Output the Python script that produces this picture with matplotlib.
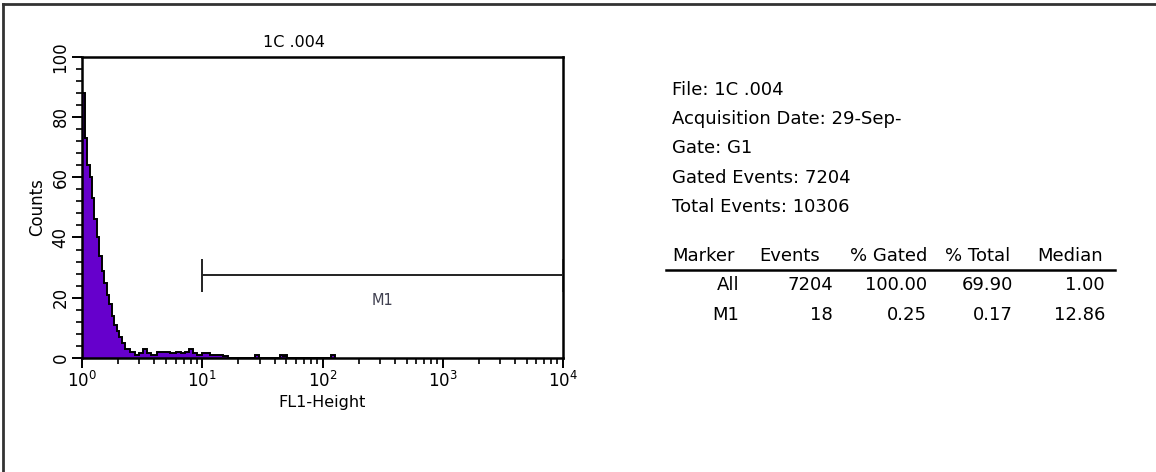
"""
FL1 ヒストグラム (CellQuest 風) の再現
"""

import matplotlib

matplotlib.use("Agg")
import matplotlib.pyplot as plt
from matplotlib.lines import Line2D
from matplotlib.ticker import FixedLocator, LogLocator, NullFormatter

# データ
fl1_edges = [
    1.00, 1.06, 1.10, 1.16, 1.21, 1.27, 1.33, 1.39, 1.46, 1.53, 1.60, 1.68,
    1.76, 1.85, 1.95, 2.05, 2.16, 2.30, 2.50, 2.75, 3.00, 3.20, 3.45, 3.75,
    4.20, 4.70, 5.40, 6.00, 6.60, 7.20, 7.80, 8.30, 9.00, 10.0, 11.5, 13.0,
    15.0, 16.4, 27.5, 29.6, 44.0, 47.0, 48.5, 51.0, 118.0, 127.0,
]
counts = [
    88, 73, 64, 60, 53, 46, 40, 34, 29, 25, 21, 18,
    14, 11, 9, 7, 5, 3, 2, 1, 1.5, 3, 1.5, 1,
    2, 2, 1.5, 2, 1.5, 2, 3, 1.5, 1, 1.5, 1, 1,
    0.7, 0, 1, 0, 1, 0.6, 1, 0, 1,
]

marker_name = "M1"
marker_range = [10.0, 9910.0]
marker_level = 27.5

file_name = "1C .004"
info_lines = [
    "File: 1C .004",
    "Acquisition Date: 29-Sep-",
    "Gate: G1",
    "Gated Events: 7204",
    "Total Events: 10306",
]
table_header = ["Marker", "Events", "% Gated", "% Total", "Median"]
table_rows = [
    ["All", "7204", "100.00", "69.90", "1.00"],
    ["M1", "18", "0.25", "0.17", "12.86"],
]

W, H = 1156, 472
plt.rcParams["font.family"] = ["DejaVu Sans"]

fig = plt.figure(figsize=(W / 100, H / 100), dpi=100)
fig.patch.set_facecolor("white")


def fx(px):
    return px / W


def fy(py):
    return 1 - py / H


# ヒストグラム軸
ax = fig.add_axes([fx(82), fy(358), (563 - 82) / W, (358 - 56.7) / H])
ax.stairs(counts, fl1_edges, fill=True, color="#6600CC", zorder=2)
ax.stairs(counts, fl1_edges, color="black", linewidth=1.4, zorder=3)

ax.set_xscale("log")
ax.set_xlim(1, 1e4)
ax.set_ylim(0, 100)

ax.xaxis.set_major_locator(LogLocator(base=10, numticks=10))
ax.xaxis.set_minor_locator(LogLocator(base=10, subs=range(2, 10), numticks=20))
ax.xaxis.set_minor_formatter(NullFormatter())
ax.set_yticks([0, 20, 40, 60, 80, 100])
ax.yaxis.set_minor_locator(FixedLocator([v for v in range(0, 101, 4)]))

ax.tick_params(axis="both", which="major", direction="out", length=7, width=1.4,
               labelsize=12, pad=2)
ax.tick_params(axis="both", which="minor", direction="out", length=4, width=1.2)
for lbl in ax.get_yticklabels():
    lbl.set_rotation(90)
    lbl.set_va("center")

for s in ax.spines.values():
    s.set_linewidth(1.8)

ax.set_ylabel("Counts", fontsize=12, labelpad=4)
ax.set_xlabel("FL1-Height", fontsize=11.5, labelpad=3)
ax.set_title(file_name, fontsize=11.5, pad=7, x=0.44)

# マーカー M1
ax.hlines(marker_level, marker_range[0], marker_range[1], color="#222222", lw=1.4, zorder=4)
ax.vlines(marker_range, marker_level - 5.5, marker_level + 5.5, color="#222222", lw=1.4, zorder=4)
ax.text((marker_range[0] * marker_range[1]) ** 0.5, marker_level - 8.5, marker_name,
        ha="center", va="center", fontsize=10.5, color="#404050")

# 右側の情報テキスト
for i, line in enumerate(info_lines):
    fig.text(fx(672), fy(90 + 29.2 * i), line, fontsize=13, ha="left", va="center")

header_x = [672, 759, 850, 945, 1037]
for x, h in zip(header_x, table_header):
    fig.text(fx(x), fy(256), h, fontsize=13, ha="left", va="center")
fig.add_artist(Line2D([fx(666), fx(1115)], [fy(270), fy(270)], color="black", lw=1.8))

col_right = [739, 833, 927, 1013, 1105]
for r, row in enumerate(table_rows):
    for x, v in zip(col_right, row):
        fig.text(fx(x), fy(285 + 30 * r), v, fontsize=13, ha="right", va="center")

# 外枠（スクリーンショットの枠線）
fig.add_artist(Line2D([fx(3), 1], [fy(4), fy(4)], color="#333333", lw=2))
fig.add_artist(Line2D([fx(3), fx(3)], [0, fy(4)], color="#333333", lw=2))

plt.savefig("out.png", dpi=100)
plt.close()
